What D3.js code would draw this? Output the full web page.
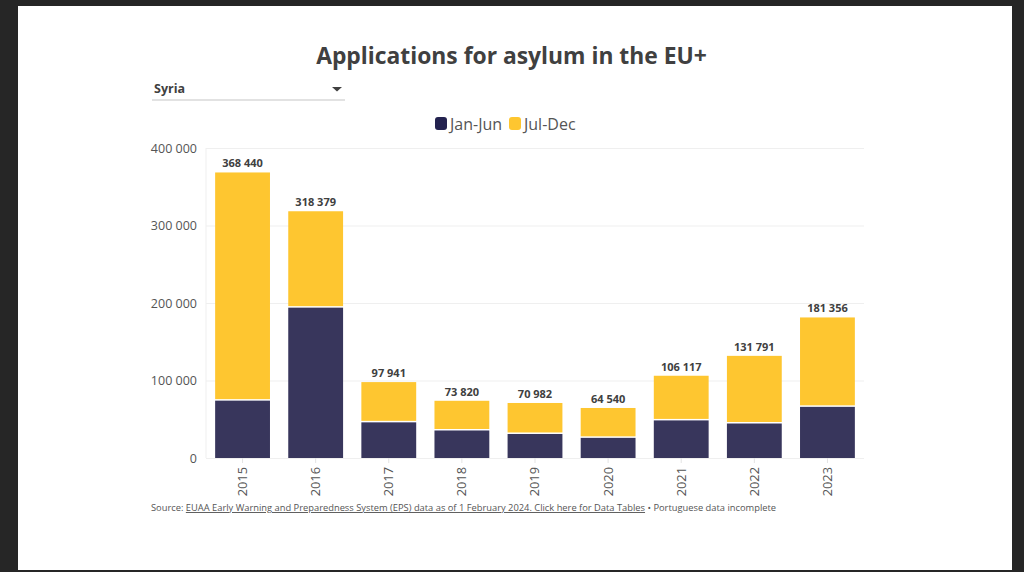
<!DOCTYPE html>
<html lang="en">
<head>
    <meta charset="UTF-8">
    <script src="https://d3js.org/d3.v7.min.js"></script>
    <title>Applications for asylum in the EU+</title>
    <style>
        html, body { margin: 0; padding: 0; background: #262626; overflow: hidden; }
        text { font-family: "Open Sans", sans-serif; }
        .domain { display: none; }
    </style>
</head>
<body>
<svg id="chart" width="1024" height="572"></svg>

<script>

const years = ["2015","2016","2017","2018","2019","2020","2021","2022","2023"];
const janJun = [74000, 194000, 46000, 35500, 31000, 26000, 48500, 44500, 66000];
const julDec = [294440, 124379, 51941, 38320, 39982, 38540, 57617, 87291, 115356];
const seriesNames = ["Jan-Jun","Jul-Dec"];
const seriesColors = ["#38365c","#fec630"];
const yTicks = [0, 100000, 200000, 300000, 400000];

const svg = d3.select("svg#chart");
const margin = {top: 148, right: 160, bottom: 114, left: 206};
const chartWidth = 1024 - margin.left - margin.right;
const chartHeight = 572 - margin.top - margin.bottom;

const fmt = v => d3.format(",")(v).replace(/,/g, " ");

// white page on the dark screenshot background
svg.append("rect").attr("x",18).attr("y",6).attr("width",994).attr("height",564).attr("fill","#fff");

svg.append("text")
   .attr("x",511.5).attr("y",64)
   .attr("text-anchor","middle")
   .attr("font-size",22.85).attr("font-weight",700).attr("fill","#404040")
   .text("Applications for asylum in the EU+");

// dropdown
svg.append("text")
   .attr("x",154).attr("y",93)
   .attr("font-size",12.5).attr("font-weight",700).attr("fill","#404040")
   .text("Syria");
svg.append("path").attr("d","M332,87h10l-5,4.5z").attr("fill","#404040");
svg.append("line")
   .attr("x1",152).attr("x2",345).attr("y1",100).attr("y2",100)
   .attr("stroke","#d9d9d9").attr("stroke-width",1.5);

// legend
const legendX = [435, 509];
seriesNames.forEach((name, i) => {
    svg.append("rect")
       .attr("x",legendX[i]).attr("y",117).attr("width",12).attr("height",13).attr("rx",3)
       .attr("fill",i === 0 ? "#23224f" : seriesColors[1]);
    svg.append("text")
       .attr("x",legendX[i]+15).attr("y",129.5)
       .attr("font-size",16).attr("fill","#555")
       .text(name);
});

const x = d3.scaleBand().domain(years).range([0,chartWidth]).paddingInner(0.25).paddingOuter(0.125);
const y = d3.scaleLinear().domain([0,400000]).range([chartHeight,0]);

const chartArea = svg.append("g").attr("transform",`translate(${margin.left},${margin.top})`);

// axes
const leftAxis = d3.axisLeft(y).tickValues(yTicks).tickFormat(fmt).tickSize(-chartWidth).tickPadding(9);
const yAxis = chartArea.append("g").call(leftAxis);
yAxis.selectAll("line").attr("stroke","#efefef");
yAxis.selectAll("text").attr("font-size",12.5).attr("fill","#555");

chartArea.append("line").attr("y1",0).attr("y2",chartHeight).attr("stroke","#efefef");

const bottomAxis = d3.axisBottom(x).tickSize(5).tickPadding(7);
const xAxis = chartArea.append("g").attr("transform",`translate(0,${chartHeight})`).call(bottomAxis);
xAxis.selectAll("line").attr("stroke","#e3e3e3");
xAxis.selectAll("text")
     .attr("font-size",12.8).attr("fill","#555")
     .attr("text-anchor","end")
     .attr("transform","rotate(-90)")
     .attr("x",-9).attr("y",0).attr("dy","0.35em");

// bars
const stacked = years.map((yr,i) => ({year: yr, a: janJun[i], b: julDec[i]}));

chartArea.selectAll("rect.jan").data(stacked).join("rect")
   .attr("class","jan")
   .attr("x",d => x(d.year)).attr("width",x.bandwidth())
   .attr("y",d => y(d.a)).attr("height",d => y(0)-y(d.a))
   .attr("fill",seriesColors[0]);

chartArea.selectAll("rect.jul").data(stacked).join("rect")
   .attr("class","jul")
   .attr("x",d => x(d.year)).attr("width",x.bandwidth())
   .attr("y",d => y(d.a+d.b)).attr("height",d => y(d.a)-y(d.a+d.b)-1.5)
   .attr("fill",seriesColors[1]);

chartArea.selectAll("text.total").data(stacked).join("text")
   .attr("class","total")
   .attr("x",d => x(d.year)+x.bandwidth()/2)
   .attr("y",d => y(d.a+d.b)-5)
   .attr("text-anchor","middle")
   .attr("font-size",11).attr("font-weight",700).attr("fill","#404040")
   .text(d => fmt(d.a+d.b));

// source line
const source = svg.append("text")
   .attr("x",151).attr("y",511)
   .attr("font-size",9.33).attr("fill","#555");
source.append("tspan").text("Source: ");
source.append("tspan").attr("text-decoration","underline")
      .text("EUAA Early Warning and Preparedness System (EPS) data as of 1 February 2024. Click here for Data Tables");
source.append("tspan").text(" • Portuguese data incomplete");

</script>
</body>
</html>
